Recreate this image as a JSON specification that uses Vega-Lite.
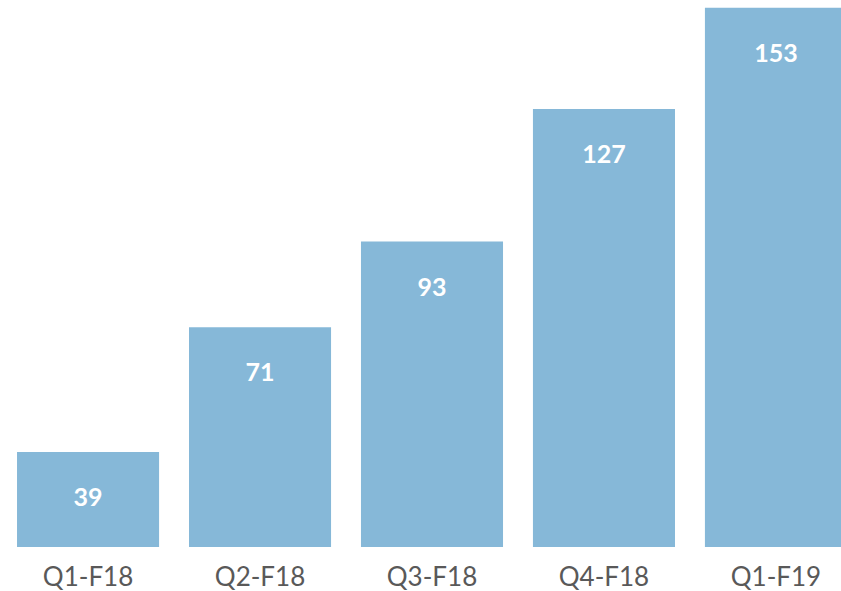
{
  "$schema": "https://vega.github.io/schema/vega-lite/v6.json",
  "width": 864,
  "height": 547,
  "autosize": "none",
  "padding": {"left": 0, "top": 0, "right": 0, "bottom": 44},
  "background": "white",
  "config": {"view": {"stroke": null}},
  "data": {"values": [
    {"quarter": "Q1-F18", "value": 39},
    {"quarter": "Q2-F18", "value": 71},
    {"quarter": "Q3-F18", "value": 93},
    {"quarter": "Q4-F18", "value": 127},
    {"quarter": "Q1-F19", "value": 153}
  ]},
  "encoding": {
    "x": {"field": "quarter", "type": "nominal", "sort": null,
      "scale": {"paddingInner": 0.174, "paddingOuter": 0.099},
      "axis": {"title": null, "domain": false, "ticks": false, "labelAngle": 0,
        "labelFont": "Lato", "labelFontSize": 26, "labelColor": "#595959", "labelPadding": 17}},
    "y": {"field": "value", "type": "quantitative",
      "scale": {"domain": [14.6, 155], "zero": false, "nice": false},
      "axis": null}
  },
  "layer": [
    {"mark": {"type": "bar", "color": "#86b8d8", "clip": true}},
    {"mark": {"type": "text", "color": "white", "font": "Lato", "fontWeight": "bold", "fontSize": 25, "baseline": "middle", "dy": 46},
     "encoding": {"text": {"field": "value", "type": "quantitative"}}}
  ]
}
